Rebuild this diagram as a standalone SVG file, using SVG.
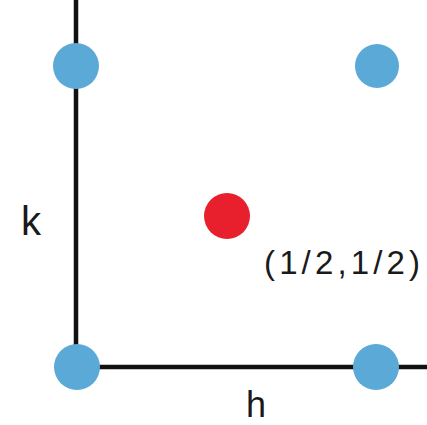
<svg xmlns="http://www.w3.org/2000/svg" width="427" height="425" viewBox="0 0 427 425">
<style>
.ax{stroke:#111;stroke-width:4.5;fill:none}
.pt{fill:#5aa9d6}
.c{fill:#e8202e}
text{font-family:"Liberation Sans",Arial,sans-serif;fill:#1a1a1a}
</style>
<rect width="427" height="425" fill="#fff"/>
<g id="connectors">
<line class="ax" x1="76" y1="0" x2="76" y2="367"/>
<line class="ax" x1="76" y1="367" x2="427" y2="367"/>
</g>
<g id="p00"><circle class="pt" cx="77" cy="367" r="23"/></g>
<g id="p01"><circle class="pt" cx="76" cy="66" r="23"/></g>
<g id="p10"><circle class="pt" cx="376" cy="367" r="23"/></g>
<g id="p11"><circle class="pt" cx="377" cy="66" r="22"/></g>
<g id="center"><circle class="c" cx="227" cy="216" r="23"/></g>
<g id="labels">
<text x="21" y="235" font-size="40">k</text>
<text x="246" y="417" font-size="36">h</text>
<text x="264" y="274" font-size="33" textLength="156" lengthAdjust="spacing">(1/2,1/2)</text>
</g>
</svg>
